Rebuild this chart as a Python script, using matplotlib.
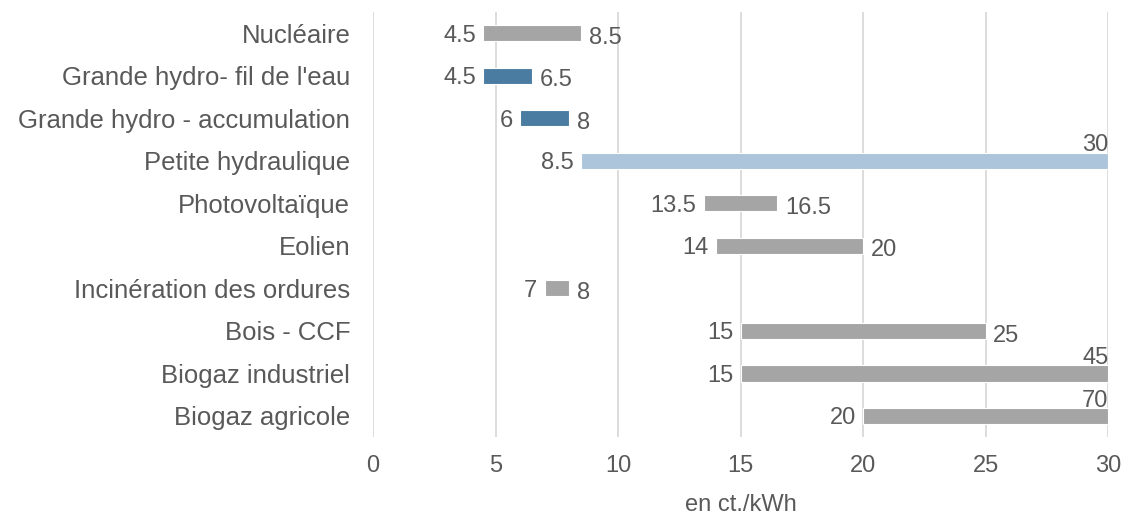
import matplotlib
matplotlib.use("Agg")
import matplotlib.pyplot as plt

categories = ["Nucléaire", "Grande hydro- fil de l'eau", "Grande hydro - accumulation",
              "Petite hydraulique", "Photovoltaïque", "Eolien",
              "Incinération des ordures", "Bois - CCF", "Biogaz industriel", "Biogaz agricole"]
low = [4.5, 4.5, 6, 8.5, 13.5, 14, 7, 15, 15, 20]
high = [8.5, 6.5, 8, 30, 16.5, 20, 8, 25, 45, 70]
colors = ["#A5A5A5", "#4A7BA0", "#4A7BA0", "#ADC5DA", "#A5A5A5", "#A5A5A5",
          "#A5A5A5", "#A5A5A5", "#A5A5A5", "#A5A5A5"]
xticks = [0, 5, 10, 15, 20, 25, 30]
xmax = 30

plt.rcParams["font.family"] = ["Liberation Sans", "DejaVu Sans"]
text_color = "#595959"

fig = plt.figure(figsize=(11.24, 5.15), dpi=100)
ax = fig.add_axes([0.332, 0.151, 0.654, 0.826])

ypos = list(range(len(categories)))
for y, lo, hi, c in zip(ypos, low, high, colors):
    end = min(hi, xmax)
    ax.barh(y, end - lo, left=lo, height=0.38, color=c, edgecolor="white",
            linewidth=0.8, zorder=3)
    ax.text(lo - 0.3, y, f"{lo:g}", ha="right", va="center_baseline", fontsize=17,
            color=text_color, zorder=4)
    if hi >= xmax:
        # value beyond the axis range: put it above the clipped bar end
        ax.text(xmax, y - 0.22, f"{hi:g}", ha="right", va="baseline", fontsize=17,
                color=text_color, zorder=4)
    else:
        ax.text(end + 0.3, y + 0.05, f"{hi:g}", ha="left", va="center_baseline",
                fontsize=17, color=text_color, zorder=4)

ax.set_xlim(0, xmax)
ax.set_ylim(len(categories) - 0.5, -0.5)
ax.set_yticks(ypos)
ax.set_yticklabels(categories, fontsize=18.5, color=text_color)
ax.set_xticks(xticks)
ax.set_xticklabels([str(t) for t in xticks], fontsize=17, color=text_color)
ax.tick_params(length=0)
ax.tick_params(axis="x", pad=13)
ax.tick_params(axis="y", pad=16.5)
ax.xaxis.grid(True, color="#D9D9D9", linewidth=1.3, zorder=0)
ax.set_axisbelow(True)
for s in ax.spines.values():
    s.set_visible(False)
ax.set_xlabel("en ct./kWh", fontsize=17, color=text_color, labelpad=12)

fig.savefig("out.png", dpi=100)
